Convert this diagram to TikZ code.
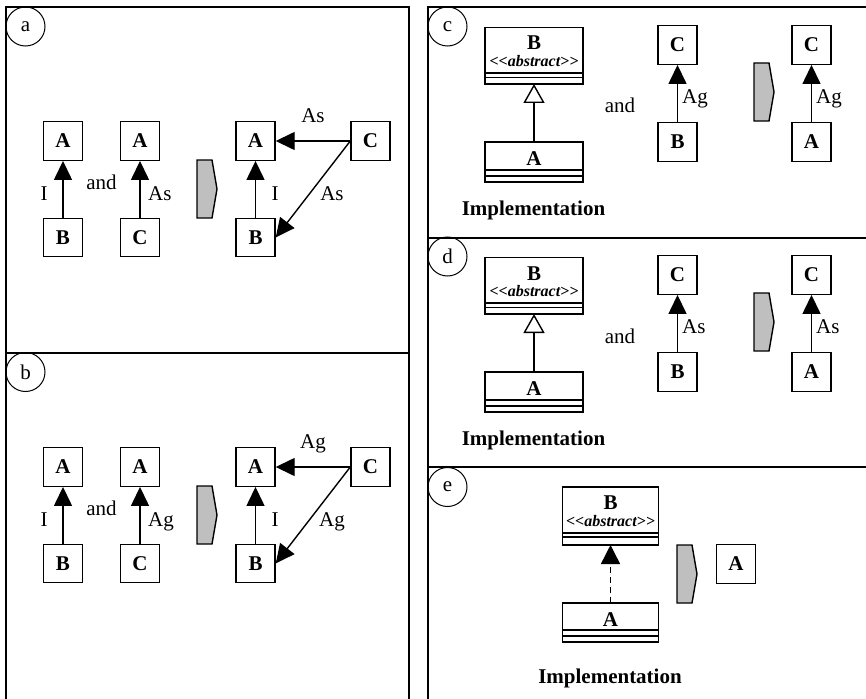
\documentclass[tikz,border=0pt]{standalone}
\usepackage{fontspec}
\setmainfont{Liberation Serif}
\usetikzlibrary{arrows.meta,positioning}
\newcommand\fbig{\fontsize{21}{25}\selectfont}
\newcommand\fabs{\fontsize{16}{19}\selectfont\bfseries\itshape}
\tikzset{
  frame/.style={draw, line width=1.7pt},
  tag/.style={draw, circle, line width=1pt, minimum size=39pt, inner sep=0pt, font=\fbig},
  box/.style={draw, line width=1.4pt, minimum width=39pt, minimum height=38.5pt, inner sep=0pt, font=\fbig\bfseries},
  lbl/.style={inner sep=0pt, anchor=base, font=\fbig},
  blbl/.style={inner sep=0pt, anchor=base, font=\fbig\bfseries},
  abs/.style={inner sep=0pt, anchor=base, font=\fabs},
  conn/.style={line width=1.4pt, -{Triangle[length=19pt,width=18pt]}},
  gen/.style={line width=1.4pt, -{Triangle[open,length=19pt,width=21pt,fill=white]}},
  realz/.style={line width=1.4pt, dash pattern=on 6pt off 4pt, -{Triangle[length=19pt,width=19pt]}},
  cname/.style={draw, line width=1.6pt, inner sep=0pt, outer sep=0pt, minimum width=98pt},
  ccomp/.style={draw, line width=1.6pt, inner sep=0pt, outer sep=0pt, minimum width=98pt},
  chev/.style={draw, line width=1.4pt, fill=gray!50, line join=miter}
}
\newcommand\chevat[2]{\draw[chev] (#1,#2) -- ++(15,0) -- ++(5,29) -- ++(-5,29) -- ++(-15,0) -- cycle;}
\begin{document}
\begin{tikzpicture}[x=1pt,y=-1pt]
\useasboundingbox (0,0) rectangle (866,698);
\fill[white] (0,0) rectangle (866,698);
% panel frames
\draw[frame] (6,7) rectangle (409,353);
\draw[frame] (6,353) rectangle (409,712);
\draw[frame] (428,7) rectangle (885,238);
\draw[frame] (428,238) rectangle (885,467);
\draw[frame] (428,467) rectangle (885,712);

% panels a and b
\foreach \dy/\lb/\pl/\cy in {0/As/a/26.5, 326/Ag/b/372}{
  \node[tag] (t\pl) at (25.5,\cy) {\pl};
  \node[box] (Aone\pl) at (63,141+\dy) {A};
  \node[box] (Bone\pl) at (63,237.5+\dy) {B};
  \draw[conn] (Bone\pl) -- (Aone\pl);
  \node[lbl] (Ione\pl) at (44,200+\dy) {I};
  \node[lbl] (and\pl) at (101.5,189+\dy) {and};
  \node[box] (Atwo\pl) at (140,141+\dy) {A};
  \node[box] (Ctwo\pl) at (140,237.5+\dy) {C};
  \draw[conn] (Ctwo\pl) -- (Atwo\pl);
  \node[lbl, anchor=base west] (Ltwo\pl) at (148,200+\dy) {\lb};
  \chevat{197}{160+\dy}
  \node[box] (Athree\pl) at (255.5,141+\dy) {A};
  \node[box] (Bthree\pl) at (255.5,237.5+\dy) {B};
  \node[box] (Cthree\pl) at (370.5,141+\dy) {C};
  \draw[conn] (Bthree\pl) -- (Athree\pl);
  \draw[conn] (Cthree\pl.west) -- (Athree\pl.east);
  \draw[conn] (Cthree\pl.west) -- (Bthree\pl.east);
  \node[lbl] (Ithree\pl) at (275,200+\dy) {I};
  \node[lbl] (Ltop\pl) at (313,122+\dy) {\lb};
  \node[lbl] (Ldiag\pl) at (332,200+\dy) {\lb};
}

% panels c and d
\foreach \dy/\lb/\pl in {0/Ag/c, 230/As/d}{
  \node[tag] (t\pl) at (447.5,26.5+\dy) {\pl};
  \node[cname, minimum height=45.5pt] (Bn\pl) at (534,50.25+\dy) {};
  \node[ccomp, minimum height=4.5pt, below=0pt of Bn\pl] (Ba\pl) {};
  \node[ccomp, minimum height=6.5pt, below=0pt of Ba\pl] (Bm\pl) {};
  \node[blbl] (Bt\pl) at (534,50+\dy) {B};
  \node[abs] (Bs\pl) at (534,66.5+\dy) {<{}<abstract>{}>};
  \node[cname, minimum height=28pt] (An\pl) at (534,156+\dy) {};
  \node[ccomp, minimum height=6pt, below=0pt of An\pl] (Aa\pl) {};
  \node[ccomp, minimum height=6pt, below=0pt of Aa\pl] (Am\pl) {};
  \node[blbl] (At\pl) at (534,165+\dy) {A};
  \draw[gen] (An\pl.north) -- (Bm\pl.south);
  \node[lbl] (and\pl) at (620,113+\dy) {and};
  \node[box] (Cone\pl) at (677.5,45+\dy) {C};
  \node[box] (Bone\pl) at (677.5,142+\dy) {B};
  \draw[conn] (Bone\pl) -- (Cone\pl);
  \node[lbl, anchor=base west] (Lone\pl) at (682,103+\dy) {\lb};
  \chevat{754}{63+\dy}
  \node[box] (Ctwo\pl) at (811.5,45+\dy) {C};
  \node[box] (Atwo\pl) at (811.5,142+\dy) {A};
  \draw[conn] (Atwo\pl) -- (Ctwo\pl);
  \node[lbl, anchor=base west] (Ltwo\pl) at (816,103+\dy) {\lb};
  \node[blbl] (Impl\pl) at (533.5,215+\dy) {Implementation};
}

% panel e
\node[tag] (te) at (447.5,487) {e};
\node[cname, minimum width=96pt, minimum height=46pt] (Bne) at (610.5,510) {};
\node[ccomp, minimum width=96pt, minimum height=4pt, below=0pt of Bne] (Bae) {};
\node[ccomp, minimum width=96pt, minimum height=8pt, below=0pt of Bae] (Bme) {};
\node[blbl] (Bte) at (610.5,509.5) {B};
\node[abs] (Bse) at (610.5,526) {<{}<abstract>{}>};
\node[cname, minimum width=96pt, minimum height=27pt] (Ane) at (610.5,616.5) {};
\node[ccomp, minimum width=96pt, minimum height=6pt, below=0pt of Ane] (Aae) {};
\node[ccomp, minimum width=96pt, minimum height=6pt, below=0pt of Aae] (Ame) {};
\node[blbl] (Ate) at (610.5,626) {A};
\draw[realz] (Ane.north) -- (Bme.south);
\chevat{677}{545}
\node[box] (Aboxe) at (736,564) {A};
\node[blbl] (Imple) at (610,683) {Implementation};
\end{tikzpicture}
\end{document}
